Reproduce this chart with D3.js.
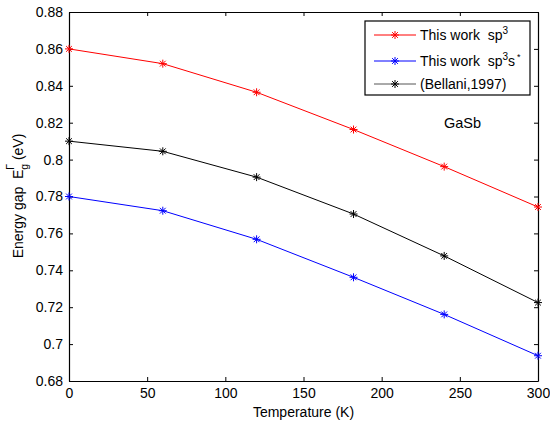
<!DOCTYPE html>
<html>
<head>
<meta charset="utf-8">
<script src="https://cdn.jsdelivr.net/npm/d3@7/dist/d3.min.js"></script>
<style>
  html, body { margin: 0; padding: 0; background: #fff; }
  svg { display: block; font-family: "Liberation Sans", Arial, sans-serif; }
  svg text { white-space: pre; }
</style>
</head>
<body>
<svg id="chart" width="550" height="423"></svg>
<script>
// Temperatures (K) at which the band gap was evaluated
const temperatures = [0, 60, 120, 182, 240, 300];
// Band gap E_g^Γ (eV) for each series
const sp3Values   = [0.860, 0.852, 0.8365, 0.8163, 0.7962, 0.7743];
const sp3sValues  = [0.780, 0.7723, 0.7568, 0.7362, 0.7161, 0.6937];
const bellaniValues = [0.810, 0.8045, 0.7905, 0.7705, 0.7478, 0.7225];
// Axis ticks
const xTicks = [0, 50, 100, 150, 200, 250, 300];
const yTicks = [0.68, 0.70, 0.72, 0.74, 0.76, 0.78, 0.80, 0.82, 0.84, 0.86, 0.88];

const seriesNames = ["This work  sp3", "This work  sp3s*", "(Bellani,1997)"];
const seriesColors = ["#ff0000", "#0000ff", "#000000"];
const seriesValues = [sp3Values, sp3sValues, bellaniValues];

const svg = d3.select("#chart");
const plotL = 69, plotR = 538, plotT = 12, plotB = 381;
const fs = 14;

const x = d3.scaleLinear().domain([0, 300]).range([plotL, plotR]);
const y = d3.scaleLinear().domain([0.68, 0.88]).range([plotB, plotT]);

const fmtY = d => String(+d.toFixed(2));

// Axes with inward ticks on all four sides
const tick = 4;
svg.append("g").attr("transform", `translate(0,${plotB})`)
  .call(d3.axisBottom(x).tickValues(xTicks).tickSizeInner(-tick).tickSizeOuter(0).tickPadding(7).tickFormat(d3.format("d")));
svg.append("g").attr("transform", `translate(0,${plotT})`)
  .call(d3.axisTop(x).tickValues(xTicks).tickSizeInner(-tick).tickSizeOuter(0).tickFormat(""));
svg.append("g").attr("transform", `translate(${plotL},0)`)
  .call(d3.axisLeft(y).tickValues(yTicks).tickSizeInner(-tick).tickSizeOuter(0).tickPadding(6).tickFormat(fmtY));
svg.append("g").attr("transform", `translate(${plotR},0)`)
  .call(d3.axisRight(y).tickValues(yTicks).tickSizeInner(-tick).tickSizeOuter(0).tickFormat(""));

svg.selectAll(".domain").attr("stroke", "#000").attr("stroke-width", 1.2);
svg.selectAll(".tick line").attr("stroke", "#000");
svg.selectAll(".tick text").attr("fill", "#000").attr("font-size", fs)
  .attr("font-family", "'Liberation Sans', Arial, sans-serif");

// Asterisk marker (plus and cross overlaid)
function star(cx, cy, r) {
  const d = r * 0.72;
  return `M${cx - r},${cy}L${cx + r},${cy}M${cx},${cy - r}L${cx},${cy + r}` +
         `M${cx - d},${cy - d}L${cx + d},${cy + d}M${cx - d},${cy + d}L${cx + d},${cy - d}`;
}

const line = d3.line().x((d, i) => x(temperatures[i])).y(d => y(d)).curve(d3.curveLinear);

seriesValues.forEach((vals, k) => {
  svg.append("path").datum(vals)
    .attr("d", line).attr("fill", "none")
    .attr("stroke", seriesColors[k]).attr("stroke-width", 1);
  svg.append("g").selectAll("path").data(vals).join("path")
    .attr("d", (d, i) => star(x(temperatures[i]), y(d), 4))
    .attr("stroke", seriesColors[k]).attr("stroke-width", 1).attr("fill", "none");
});

// Legend
const lg = svg.append("g");
lg.append("rect").attr("x", 365).attr("y", 21).attr("width", 165).attr("height", 74)
  .attr("fill", "#fff").attr("stroke", "#000").attr("stroke-width", 1.2);
const legendY = [35, 61, 84];
seriesNames.forEach((name, k) => {
  const yy = legendY[k];
  lg.append("line").attr("x1", 374).attr("x2", 416).attr("y1", yy).attr("y2", yy)
    .attr("stroke", k === 2 ? "#555" : seriesColors[k]).attr("stroke-width", 1);
  lg.append("path").attr("d", star(395, yy, 4)).attr("stroke", seriesColors[k])
    .attr("stroke-width", 1).attr("fill", "none");
});
const txt = (yy) => lg.append("text").attr("x", 420).attr("y", yy + 5)
  .attr("font-size", fs).attr("fill", "#000");
let t = txt(legendY[0]);
t.append("tspan").text("This work  sp");
t.append("tspan").attr("dy", -6).attr("font-size", 10).text("3");
t = txt(legendY[1]);
t.append("tspan").text("This work  sp");
t.append("tspan").attr("dy", -6).attr("font-size", 10).text("3");
t.append("tspan").attr("dy", 6).text("s");
t.append("tspan").attr("dy", -6).attr("dx", 2).attr("font-size", 9).text("*");
t = txt(legendY[2]);
t.text("(Bellani,1997)");

// Material label
svg.append("text").attr("x", 444).attr("y", 128).attr("font-size", 14.5).attr("fill", "#000").text("GaSb");

// Axis titles
svg.append("text").attr("x", (plotL + plotR) / 2).attr("y", 417).attr("text-anchor", "middle")
  .attr("font-size", fs).attr("fill", "#000").text("Temperature (K)");

const yl = svg.append("text").attr("transform", "translate(23,196) rotate(-90)")
  .attr("text-anchor", "middle").attr("font-size", fs).attr("fill", "#000");
yl.append("tspan").text("Energy gap  E");
yl.append("tspan").attr("dy", 5).attr("font-size", 10.5).text("g");
yl.append("tspan").attr("dy", -14).attr("dx", -6).attr("font-size", 10.5).text("Γ");
yl.append("tspan").attr("dy", 9).text(" (eV)");
</script>
</body>
</html>
